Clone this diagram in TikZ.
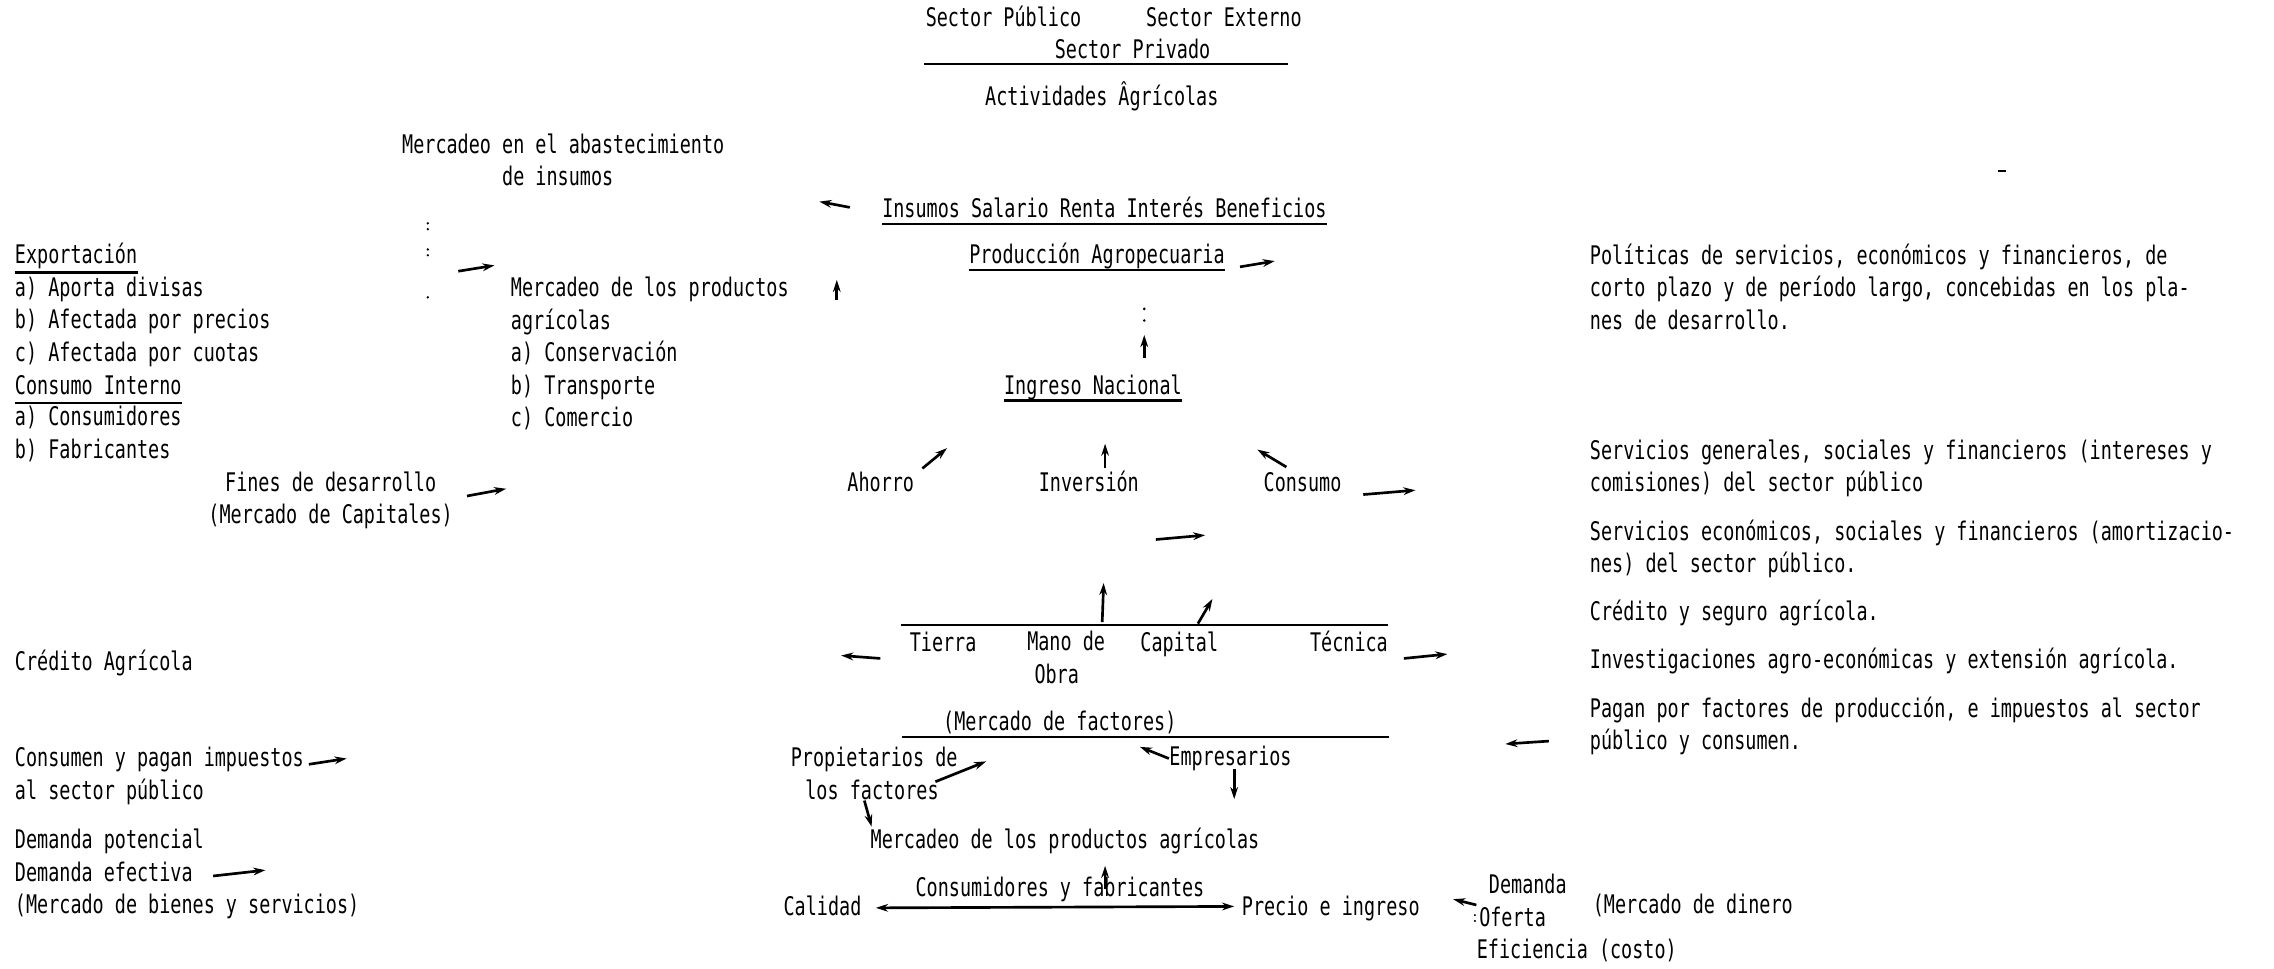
\documentclass[tikz,border=0pt]{standalone}
\usepackage{fontspec}
\newfontfamily\tw[FakeStretch=0.72]{DejaVu Sans Mono}
\usetikzlibrary{arrows.meta}
\begin{document}
\begin{tikzpicture}[x=0.6pt,y=-0.6pt,
  txt/.style={font=\tw\fontsize{10.6}{13.4}\selectfont, inner sep=0pt, anchor=base west, align=left},
  ctxt/.style={txt, anchor=base, align=center},
  arr/.style={line width=1.1pt, -{Stealth[length=5pt,width=3.2pt]}},
  darr/.style={line width=1.1pt, {Stealth[length=5pt,width=3.2pt]}-{Stealth[length=5pt,width=3.2pt]}},
  rule/.style={line width=0.9pt},
  speck/.style={fill=black}]
\useasboundingbox (0,0) rectangle (1568,668);

% (multi-line nodes are placed by the baseline of their LAST line)
% ---- top
\node[txt] (spub) at (638,18) {Sector Público};
\node[txt] (sext) at (790,18) {Sector Externo};
\node[txt] (spriv) at (727,40) {Sector Privado};
\coordinate (topL) at (637,44);
\coordinate (topR) at (888,44);
\draw[rule] (topL) -- (topR);
\node[txt] (activ) at (679,73) {Actividades Âgrícolas};

% ---- left column
\node[txt] (merc) at (277,128) {Mercadeo en el abastecimiento\\\phantom{Mercadeo }de insumos};
\node[txt] (exp) at (10,182) {Exportación};
\draw[rule] ([yshift=-3.5pt]exp.base west) -- ([yshift=-3.5pt]exp.base east);
\node[txt] (expl) at (10,249) {a) Aporta divisas\\b) Afectada por precios\\c) Afectada por cuotas};
\node[txt] (cint) at (10,272) {Consumo Interno};
\draw[rule] ([yshift=-3.5pt]cint.base west) -- ([yshift=-3.5pt]cint.base east);
\node[txt] (cintl) at (10,316) {a) Consumidores\\b) Fabricantes};
\node[txt] (mprod) at (352,294) {Mercadeo de los productos\\agrícolas\\a) Conservación\\b) Transporte\\c) Comercio};
\node[ctxt] (fines) at (228,361) {Fines de desarrollo\\(Mercado de Capitales)};
\node[txt] (credag) at (10,462) {Crédito Agrícola};
\node[txt] (consum) at (10,551) {Consumen y pagan impuestos\\al sector público};
\node[txt] (demand) at (10,630) {Demanda potencial\\Demanda efectiva\\(Mercado de bienes y servicios)};

% ---- centre column
\node[txt] (insumos) at (608,150) {Insumos Salario Renta Interés Beneficios};
\draw[rule] ([yshift=-2.5pt]insumos.base west) -- ([yshift=-2.5pt]insumos.base east);
\node[txt] (prod) at (668,182) {Producción Agropecuaria};
\draw[rule] ([yshift=-2.5pt]prod.base west) -- ([yshift=-2.5pt]prod.base east);
\node[txt] (ingreso) at (692,272) {Ingreso Nacional};
\draw[rule] ([yshift=-2.5pt]ingreso.base west) -- ([yshift=-2.5pt]ingreso.base east);
\node[txt] (ahorro) at (584,339) {Ahorro};
\node[txt] (inver) at (716,339) {Inversión};
\node[txt] (consumo) at (871,339) {Consumo};

\coordinate (facL) at (621,431);
\coordinate (facR) at (957,431);
\draw[rule] (facL) -- (facR);
\node[txt] (tierra) at (627,449) {Tierra};
\node[txt] (mano) at (708,471) {Mano de\\\kern3pt Obra};
\node[txt] (capital) at (786,449) {Capital};
\node[txt] (tecnica) at (903,449) {Técnica};

\node[txt] (mfac) at (650,504) {(Mercado de factores)};
\coordinate (mfacL) at (622,508);
\coordinate (mfacR) at (958,508);
\draw[rule] (mfacL) -- (mfacR);
\node[txt] (prop) at (545,551) {Propietarios de\\\kern6pt los factores};
\node[txt] (empr) at (806,528) {Empresarios};
\node[txt] (mpa) at (600,585) {Mercadeo de los productos agrícolas};
\node[txt] (cyf) at (631,618) {Consumidores y fabricantes};
\node[txt] (calidad) at (540,631) {Calidad};
\node[txt] (precio) at (856,631) {Precio e ingreso};
\node[txt] (dof) at (1018,661) {\kern5pt Demanda\\\kern1pt Oferta\\Eficiencia (costo)};
\node[txt] (mdin) at (1098,630) {(Mercado de dinero};

% ---- right column
\node[txt] (polit) at (1096,227) {Políticas de servicios, económicos y financieros, de\\corto plazo y de período largo, concebidas en los pla-\\nes de desarrollo.};
\node[txt] (sgen) at (1096,339) {Servicios generales, sociales y financieros (intereses y\\comisiones) del sector público};
\node[txt] (secon) at (1096,395) {Servicios económicos, sociales y financieros (amortizacio-\\nes) del sector público.};
\node[txt] (cseg) at (1096,428) {Crédito y seguro agrícola.};
\node[txt] (invest) at (1096,461) {Investigaciones agro-económicas y extensión agrícola.};
\node[txt] (pagan) at (1096,517) {Pagan por factores de producción, e impuestos al sector\\público y consumen.};

% ---- arrows (tail t, head h)
\coordinate (a1t) at (586,143); \coordinate (a1h) at (565,139);
\coordinate (a2t) at (316,187); \coordinate (a2h) at (341,183);
\coordinate (a3t) at (577,207); \coordinate (a3h) at (577,193);
\coordinate (a4t) at (855,184); \coordinate (a4h) at (879,180);
\coordinate (a5t) at (789,247); \coordinate (a5h) at (789,231);
\coordinate (a6t) at (636,323); \coordinate (a6h) at (653,309);
\coordinate (a7t) at (762,323); \coordinate (a7h) at (762,306);
\coordinate (a8t) at (887,322); \coordinate (a8h) at (867,310);
\coordinate (a9t) at (940,341); \coordinate (a9h) at (976,338);
\coordinate (a10t) at (322,342); \coordinate (a10h) at (349,337);
\coordinate (a11t) at (797,372); \coordinate (a11h) at (831,369);
\coordinate (a12t) at (760,429); \coordinate (a12h) at (761,402);
\coordinate (a13t) at (826,430); \coordinate (a13h) at (836,413);
\coordinate (a14t) at (607,454); \coordinate (a14h) at (580,452);
\coordinate (a15t) at (968,454); \coordinate (a15h) at (998,451);
\coordinate (a16t) at (645,539); \coordinate (a16h) at (680,525);
\coordinate (a17t) at (806,523); \coordinate (a17h) at (786,515);
\coordinate (a18t) at (851,530); \coordinate (a18h) at (851,551);
\coordinate (a19t) at (596,552); \coordinate (a19h) at (601,570);
\coordinate (a20t) at (762,613); \coordinate (a20h) at (762,597);
\coordinate (a21l) at (604,626); \coordinate (a21r) at (851,625);
\coordinate (a22t) at (1018,624); \coordinate (a22h) at (1002,620);
\coordinate (a23t) at (1068,511); \coordinate (a23h) at (1038,513);
\coordinate (a24t) at (213,527); \coordinate (a24h) at (239,523);
\coordinate (a25t) at (147,604); \coordinate (a25h) at (183,600);
\foreach \i in {1,...,20,22,23,24,25} {\draw[arr] (a\i t) -- (a\i h);}
\draw[darr] (a21l) -- (a21r);

% ---- specks printed in the scan
\fill[speck] (295,154) circle (0.9); \fill[speck] (295,158) circle (0.9);
\fill[speck] (295,172) circle (0.9); \fill[speck] (295,176) circle (0.9);
\fill[speck] (295,205) circle (0.9);
\fill[speck] (789,213) circle (1); \fill[speck] (789,221) circle (1);
\fill[speck] (1017,631) circle (0.8); \fill[speck] (1017,635) circle (0.8);
\draw[line width=0.8pt] (1378,118) -- (1383,118);
\end{tikzpicture}
\end{document}
